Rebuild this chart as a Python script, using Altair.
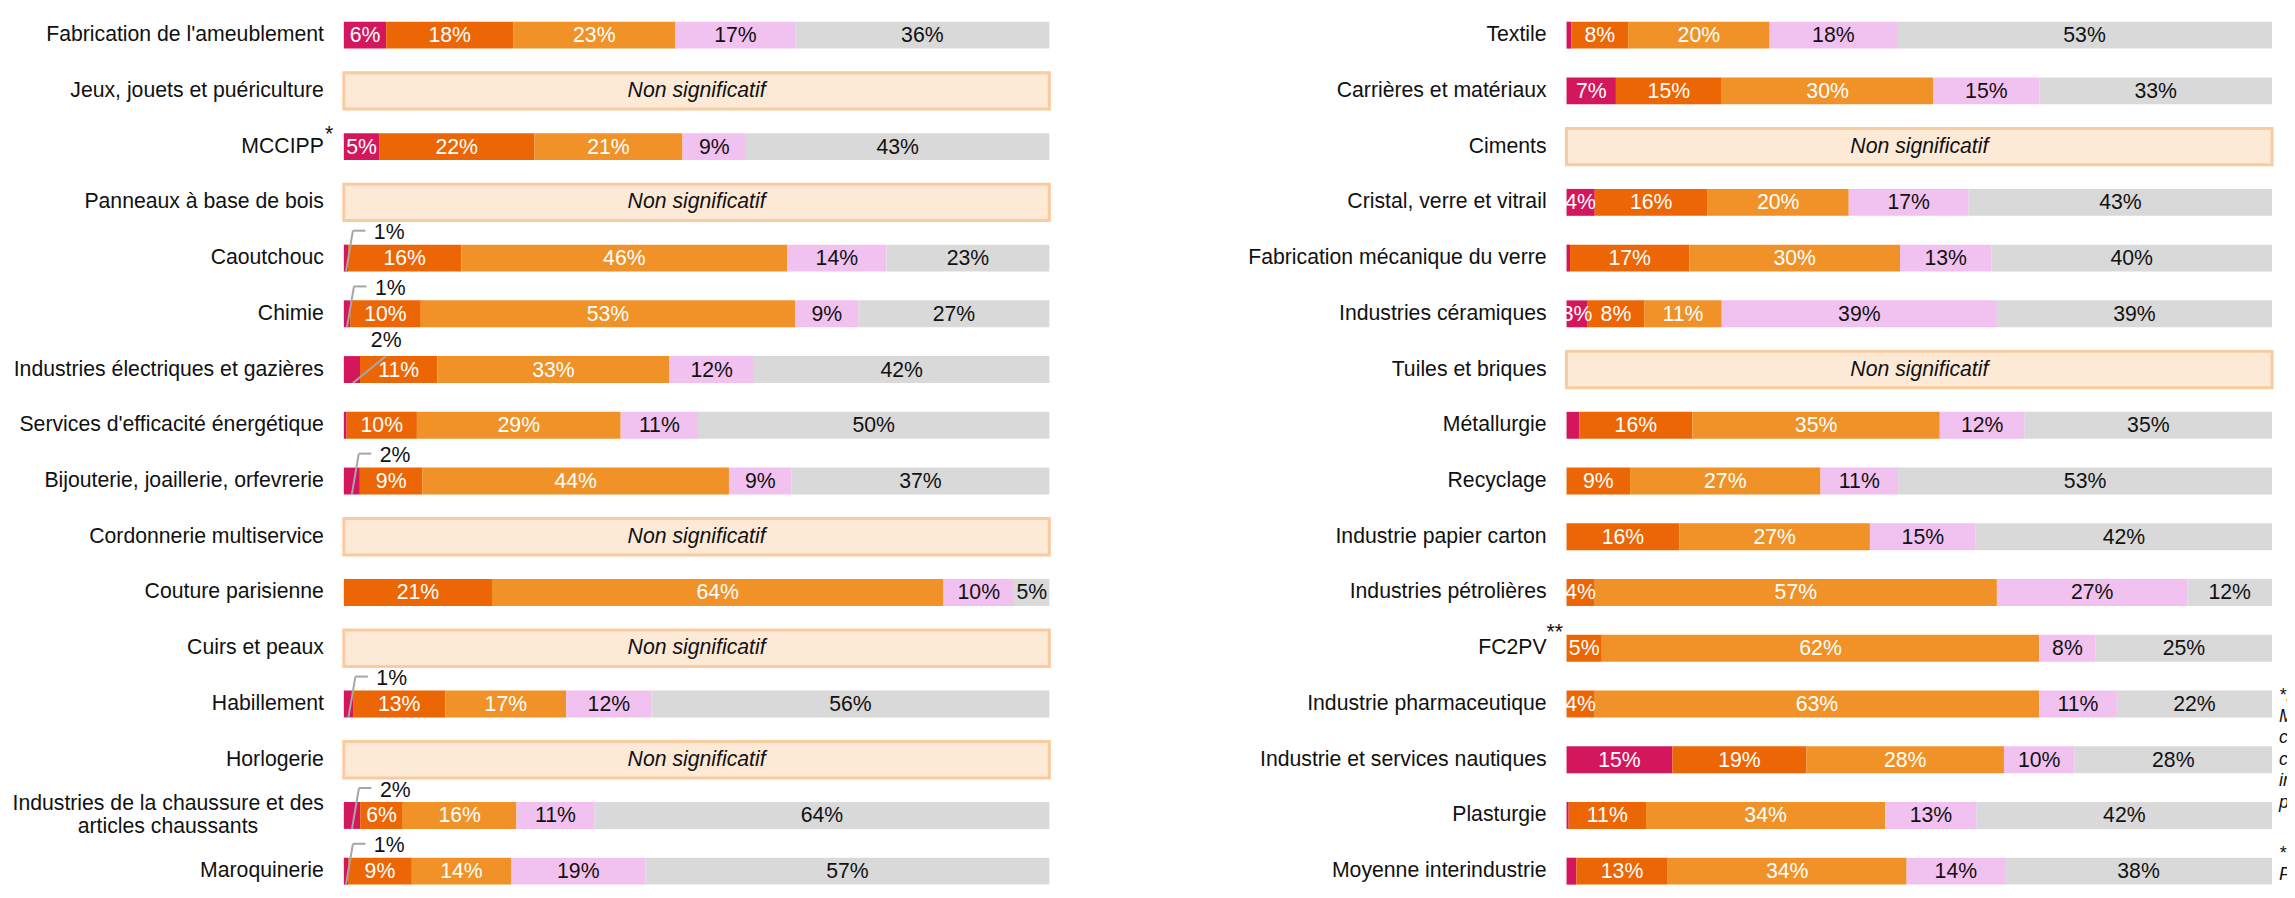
import altair as alt
import pandas as pd

# ---------------- data ----------------
COLORS = ["#D4165C", "#EC6605", "#F09228", "#F1C2F0", "#D9D9D9"]
TEXT_COLORS = ["#FFFFFF", "#FFFFFF", "#FFFFFF", "#111111", "#111111"]
NS_TEXT = "Non significatif"

left_rows = [
    "Fabrication de l'ameublement", "Jeux, jouets et puériculture", "MCCIPP",
    "Panneaux à base de bois", "Caoutchouc", "Chimie",
    "Industries électriques et gazières", "Services d'efficacité énergétique",
    "Bijouterie, joaillerie, orfevrerie", "Cordonnerie multiservice",
    "Couture parisienne", "Cuirs et peaux", "Habillement", "Horlogerie",
    "Industries de la chaussure et des\narticles chaussants", "Maroquinerie",
]
left_notes = ["", "", "*", "", "", "", "", "", "", "", "", "", "", "", "", ""]
left_c1 = [6, None, 5, None, 0.6, 0.9, 2.3, 0.4, 2.3, None, 0, None, 1.3, None, 2.3, 0.6]
left_c2 = [18, None, 22, None, 16, 10, 11, 10, 9, None, 21, None, 13, None, 6, 9]
left_c3 = [23, None, 21, None, 46, 53, 33, 29, 44, None, 64, None, 17, None, 16, 14]
left_c4 = [17, None, 9, None, 14, 9, 12, 11, 9, None, 10, None, 12, None, 11, 19]
left_c5 = [36, None, 43, None, 23, 27, 42, 50, 37, None, 5, None, 56, None, 64, 57]
left_c1_labels = ["6%", "", "5%", "", "", "", "", "", "", "", "", "", "", "", "", ""]
left_c1_callouts = ["", "", "", "", "1%", "1%", "2%", "", "2%", "", "", "", "1%", "", "2%", "1%"]

right_rows = [
    "Textile", "Carrières et matériaux", "Ciments", "Cristal, verre et vitrail",
    "Fabrication mécanique du verre", "Industries céramiques", "Tuiles et briques",
    "Métallurgie", "Recyclage", "Industrie papier carton", "Industries pétrolières",
    "FC2PV", "Industrie pharmaceutique", "Industrie et services nautiques",
    "Plasturgie", "Moyenne interindustrie",
]
right_notes = ["", "", "", "", "", "", "", "", "", "", "", "**", "", "", "", ""]
right_c1 = [0.7, 7, None, 4, 0.5, 3, None, 1.8, 0, 0, 0, 0, 0, 15, 0.3, 1.4]
right_c2 = [8, 15, None, 16, 17, 8, None, 16, 9, 16, 4, 5, 4, 19, 11, 13]
right_c3 = [20, 30, None, 20, 30, 11, None, 35, 27, 27, 57, 62, 63, 28, 34, 34]
right_c4 = [18, 15, None, 17, 13, 39, None, 12, 11, 15, 27, 8, 11, 10, 13, 14]
right_c5 = [53, 33, None, 43, 40, 39, None, 35, 53, 42, 12, 25, 22, 28, 42, 38]
right_c1_labels = ["", "7%", "", "4%", "", "3%", "", "", "", "", "", "", "", "15%", "", ""]
right_c1_callouts = ["", "", "", "", "", "", "", "", "", "", "", "", "", "", "", ""]

footnote_1 = ["*MCCIPP :", "Menuiseries,", "charpentes,", "constructions",
              "industrialisées et", "portes planes"]
footnote_2 = ["**FC2PV :", "Fabrication et", "commerce des"]

SPECIAL_ROW = "Industries électriques et gazières"

# ---------------- style ----------------
FONT = "Liberation Sans, Arial, sans-serif"
FS = 21.3
W = 708            # width of the 0-100 % bar span
W_RIGHT = 723      # right panel reaches the page edge (footnotes are cut there)
H = 882
STEP = 55.93
Y0 = -0.4595
Y1 = Y0 + H / STEP
NS_FILL = "#FCE9D6"
NS_STROKE = "#F9CB9E"
LEAD = "#A6A6A6"
GRID = "#D9D9D9"
INK = "#111111"


def build(rows, cols, c1_labels, c1_callouts, notes):
    bars, ns, labs = [], [], []
    for i, name in enumerate(rows):
        parts = name.split("\n")
        labs.append({"idx": i, "name": name, "note": notes[i], "multi": len(parts) > 1,
                     "line1": parts[0], "line2": parts[1] if len(parts) > 1 else ""})
        vals = [c[i] for c in cols]
        if vals[0] is None:
            ns.append({"idx": i, "t": NS_TEXT})
            continue
        for k, v in enumerate(vals):
            if k == 0:
                lab, call = c1_labels[i], c1_callouts[i]
            else:
                lab, call = f"{v:.0f}%", ""
            bars.append({"idx": i, "cat": k, "value": v, "label": lab,
                         "callout": call, "tcol": TEXT_COLORS[k], "row": name})
    return pd.DataFrame(bars), pd.DataFrame(ns), pd.DataFrame(labs)


def panel(rows, cols, c1_labels, c1_callouts, notes, note_dx, note_dy, width, foot=False):
    bars_df, ns_df, rows_df = build(rows, cols, c1_labels, c1_callouts, notes)
    yscale = alt.Scale(domain=[Y0, Y1], reverse=True, nice=False, zero=False, padding=0)
    xscale = alt.Scale(domain=[0, width / W], nice=False, zero=False, padding=0)
    y = alt.Y("idx:Q", scale=yscale, axis=None)
    grid_axis = alt.Axis(values=[0, 0.2, 0.4, 0.6, 0.8, 1.0], grid=True, gridColor=GRID,
                         gridWidth=2, labels=False, ticks=False, domain=False,
                         title=None, minExtent=0, maxExtent=0)

    stacked = alt.Chart(bars_df).transform_stack(
        stack="value", groupby=["idx"], as_=["x0", "x1"], offset="normalize",
        sort=[alt.SortField("cat", order="ascending")],
    ).transform_calculate(mid="(datum.x0 + datum.x1) / 2")

    bar_layer = stacked.mark_bar(orient="horizontal", size=27).encode(
        x=alt.X("x0:Q", scale=xscale, axis=grid_axis),
        x2="x1:Q",
        y=y,
        color=alt.Color("cat:N", scale=alt.Scale(domain=[0, 1, 2, 3, 4], range=COLORS),
                        legend=None),
    )
    inside = stacked.transform_filter("datum.label != ''").mark_text(
        font=FONT, fontSize=FS, baseline="middle", align="center", dy=1
    ).encode(
        x=alt.X("mid:Q", scale=xscale, axis=None), y=y, text="label:N",
        color=alt.Color("tcol:N", scale=None),
    )

    ns_box = alt.Chart(ns_df).mark_bar(
        orient="horizontal", size=36.5, fill=NS_FILL, stroke=NS_STROKE, strokeWidth=3
    ).encode(
        x=alt.X(datum=0, scale=xscale, axis=None), x2=alt.X2(datum=1), y=y
    )
    ns_txt = alt.Chart(ns_df).mark_text(
        font=FONT, fontSize=FS, fontStyle="italic", baseline="middle", color=INK
    ).encode(x=alt.X(datum=0.5, scale=xscale, axis=None), y=y, text="t:N")

    layers = [ns_box, bar_layer, inside, ns_txt]

    if (bars_df["callout"] != "").any():
        call = stacked.transform_filter("datum.callout != ''")
        gen = call.transform_filter(f'datum.row !== "{SPECIAL_ROW}"')
        sp = call.transform_filter(f'datum.row === "{SPECIAL_ROW}"')
        xm = alt.X("mid:Q", scale=xscale, axis=None)
        lead1 = gen.mark_rule(color=LEAD, strokeWidth=2, yOffset=13.5, y2Offset=-27.5,
                              x2Offset=7).encode(x=xm, x2="mid:Q", y=y, y2="idx:Q")
        lead2 = gen.mark_rule(color=LEAD, strokeWidth=2, xOffset=7, x2Offset=19.5,
                              yOffset=-27.5, y2Offset=-27.5).encode(
            x=xm, x2="mid:Q", y=y, y2="idx:Q")
        ctext = gen.mark_text(font=FONT, fontSize=FS, align="left", baseline="middle",
                              dx=28, dy=-25, color=INK).encode(
            x=xm, y=y, text="callout:N")
        sp_lead = sp.mark_rule(color=LEAD, strokeWidth=2, xOffset=1, yOffset=13.5,
                               x2Offset=34, y2Offset=-13.5).encode(
            x=xm, x2="mid:Q", y=y, y2="idx:Q")
        sp_text = sp.mark_text(font=FONT, fontSize=FS, align="left", baseline="middle",
                               dx=19, dy=-29, color=INK).encode(
            x=xm, y=y, text="callout:N")
        layers += [lead1, lead2, ctext, sp_lead, sp_text]

    lab_single = alt.Chart(rows_df).transform_filter("!datum.multi").mark_text(
        font=FONT, fontSize=FS, align="right", baseline="middle", dx=-20, color=INK
    ).encode(x=alt.value(0), y=y, text="line1:N")
    layers.append(lab_single)
    if rows_df["multi"].any():
        multi = alt.Chart(rows_df).transform_filter("datum.multi")
        layers.append(multi.mark_text(
            font=FONT, fontSize=FS, align="right", baseline="middle", dx=-20, dy=-11.7,
            color=INK).encode(x=alt.value(0), y=y, text="line1:N"))
        layers.append(multi.mark_text(
            font=FONT, fontSize=FS, align="center", baseline="middle", dx=-176.5, dy=11.7,
            color=INK).encode(x=alt.value(0), y=y, text="line2:N"))
    note_layer = alt.Chart(rows_df).transform_filter("datum.note != ''").mark_text(
        font=FONT, fontSize=FS, align="left", baseline="middle", dx=note_dx, dy=note_dy,
        color=INK
    ).encode(x=alt.value(0), y=y, text="note:N")
    layers.append(note_layer)

    if foot:
        fdf = pd.DataFrame({"t": ["\n".join(footnote_1), "\n".join(footnote_2)],
                            "k": [0, 1]})
        for k, ypix in [(0, 693.5), (1, 852.5)]:
            layers.append(
                alt.Chart(fdf).transform_filter(f"datum.k == {k}").mark_text(
                    font=FONT, fontSize=18, fontStyle="italic", align="left",
                    baseline="alphabetic", lineBreak="\n", lineHeight=21.5, dx=7,
                    color=INK, clip=True
                ).encode(x=alt.X(datum=1, scale=xscale, axis=None), y=alt.value(ypix),
                         text="t:N")
            )

    return alt.layer(*layers).properties(width=width, height=H)


left = panel(left_rows, [left_c1, left_c2, left_c3, left_c4, left_c5],
             left_c1_labels, left_c1_callouts, left_notes, -19, -11.5, W)
right = panel(right_rows, [right_c1, right_c2, right_c3, right_c4, right_c5],
              right_c1_labels, right_c1_callouts, right_notes, -20, -15.5, W_RIGHT,
              foot=True)

chart = alt.hconcat(left, right, spacing=519, bounds="flush").properties(
    padding={"left": 4, "top": 0, "right": 0, "bottom": 0}
).configure_view(stroke=None).configure_text(font=FONT)

chart.save("out.html", embed_options={"renderer": "svg", "actions": False})
